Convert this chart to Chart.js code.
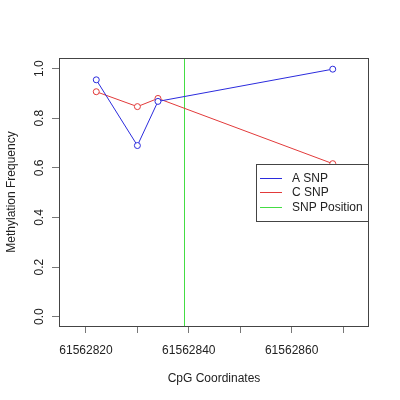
<!DOCTYPE html>
<html>
<head>
<meta charset="utf-8">
<script src="https://cdn.jsdelivr.net/npm/chart.js@4"></script>
<style>
  body { margin: 0; background: #fff; }
  canvas { display: block; }
</style>
</head>
<body>
<canvas id="grafico" width="400" height="400"></canvas>
<script>
    // Datos del gráfico
    const posiciones = [61562822, 61562830, 61562834, 61562868];
    const snpA = [0.955, 0.69, 0.868, 0.998];
    const snpC = [0.907, 0.847, 0.880, 0.617];
    const posicionSNP = 61562839;
    const xTicks = [61562820, 61562830, 61562840, 61562850, 61562860, 61562870];
    const xTickLabels = ['61562820', '61562840', '61562860'];
    const yTicks = [0, 0.2, 0.4, 0.6, 0.8, 1.0];
    const yTickLabels = ['0.0', '0.2', '0.4', '0.6', '0.8', '1.0'];
    const leyenda = ['A SNP', 'C SNP', 'SNP Position'];
    const colores = ['#2b2bdd', '#e23a3a', '#44dd44'];

    const fuente = 'Liberation Sans, Arial, sans-serif';

    function puntos(valores) {
        return posiciones.map((x, i) => ({ x: x, y: valores[i] }));
    }

    // Caja, línea del SNP, etiquetas del eje Y y leyenda
    const extras = {
        id: 'extras',
        beforeDatasetsDraw(chart) {
            const { ctx, chartArea: a, scales } = chart;
            const px = Math.round(scales.x.getPixelForValue(posicionSNP)) + 0.5;
            ctx.save();
            ctx.strokeStyle = colores[2];
            ctx.lineWidth = 1;
            ctx.beginPath();
            ctx.moveTo(px, a.top);
            ctx.lineTo(px, a.bottom);
            ctx.stroke();
            ctx.restore();
        },
        afterDraw(chart) {
            const { ctx, chartArea: a, scales } = chart;
            ctx.save();
            ctx.strokeStyle = '#444';
            ctx.lineWidth = 1;
            ctx.strokeRect(a.left + 0.5, a.top + 0.5, a.right - a.left - 1, a.bottom - a.top);

            // etiquetas Y giradas
            ctx.fillStyle = '#222';
            ctx.font = '12px ' + fuente;
            ctx.textAlign = 'center';
            ctx.textBaseline = 'middle';
            yTicks.forEach((v, i) => {
                const py = scales.y.getPixelForValue(v);
                ctx.save();
                ctx.translate(40, py);
                ctx.rotate(-Math.PI / 2);
                ctx.fillText(yTickLabels[i], 0, 0);
                ctx.restore();
            });

            // leyenda
            const lx = a.right - 113, ly = 164;
            ctx.fillStyle = '#fff';
            ctx.fillRect(lx, ly, 113, 57);
            ctx.strokeStyle = '#444';
            ctx.strokeRect(lx + 0.5, ly + 0.5, 112, 57);
            ctx.textAlign = 'left';
            leyenda.forEach((t, i) => {
                const y = Math.round(ly + 14 + i * 14.4) + 0.5;
                ctx.strokeStyle = colores[i];
                ctx.beginPath();
                ctx.moveTo(lx + 4, y);
                ctx.lineTo(lx + 26, y);
                ctx.stroke();
                ctx.fillStyle = '#222';
                ctx.fillText(t, lx + 36, y);
            });
            ctx.restore();
        }
    };

    new Chart(document.getElementById('grafico'), {
        type: 'scatter',
        data: {
            datasets: [
                {
                    label: leyenda[0],
                    data: puntos(snpA),
                    showLine: true,
                    borderColor: colores[0],
                    backgroundColor: '#fff',
                    borderWidth: 1,
                    pointRadius: 3,
                    pointBorderWidth: 1
                },
                {
                    label: leyenda[1],
                    data: puntos(snpC),
                    showLine: true,
                    borderColor: colores[1],
                    backgroundColor: '#fff',
                    borderWidth: 1,
                    pointRadius: 3,
                    pointBorderWidth: 1
                }
            ]
        },
        options: {
            responsive: false,
            animation: false,
            layout: { padding: { left: 0, top: 58, right: 31, bottom: 0 } },
            plugins: {
                legend: { display: false },
                tooltip: { enabled: false }
            },
            scales: {
                x: {
                    type: 'linear',
                    min: 61562814.75,
                    max: 61562875.05,
                    afterBuildTicks: s => { s.ticks = xTicks.map(v => ({ value: v })); },
                    afterFit: s => { s.height = 74; },
                    border: { display: false },
                    grid: { drawOnChartArea: false, drawTicks: true, tickLength: 7, color: '#777' },
                    ticks: {
                        autoSkip: false,
                        maxRotation: 0,
                        padding: 10,
                        color: '#222',
                        font: { family: fuente, size: 12 },
                        callback: v => xTickLabels.includes(String(v)) ? String(v) : ''
                    },
                    title: {
                        display: true,
                        text: 'CpG Coordinates',
                        color: '#222',
                        font: { family: fuente, size: 12 },
                        padding: { top: 0, bottom: 14 }
                    }
                },
                y: {
                    min: -0.0375,
                    max: 1.043,
                    afterBuildTicks: s => { s.ticks = yTicks.map(v => ({ value: v })); },
                    afterFit: s => { s.width = 59; },
                    border: { display: false },
                    grid: { drawOnChartArea: false, drawTicks: true, tickLength: 7, color: '#777' },
                    ticks: { display: false },
                    title: {
                        display: true,
                        text: 'Methylation Frequency',
                        color: '#222',
                        font: { family: fuente, size: 12 },
                        padding: { top: 4, bottom: 0 }
                    }
                }
            }
        },
        plugins: [extras]
    });
</script>
</body>
</html>
